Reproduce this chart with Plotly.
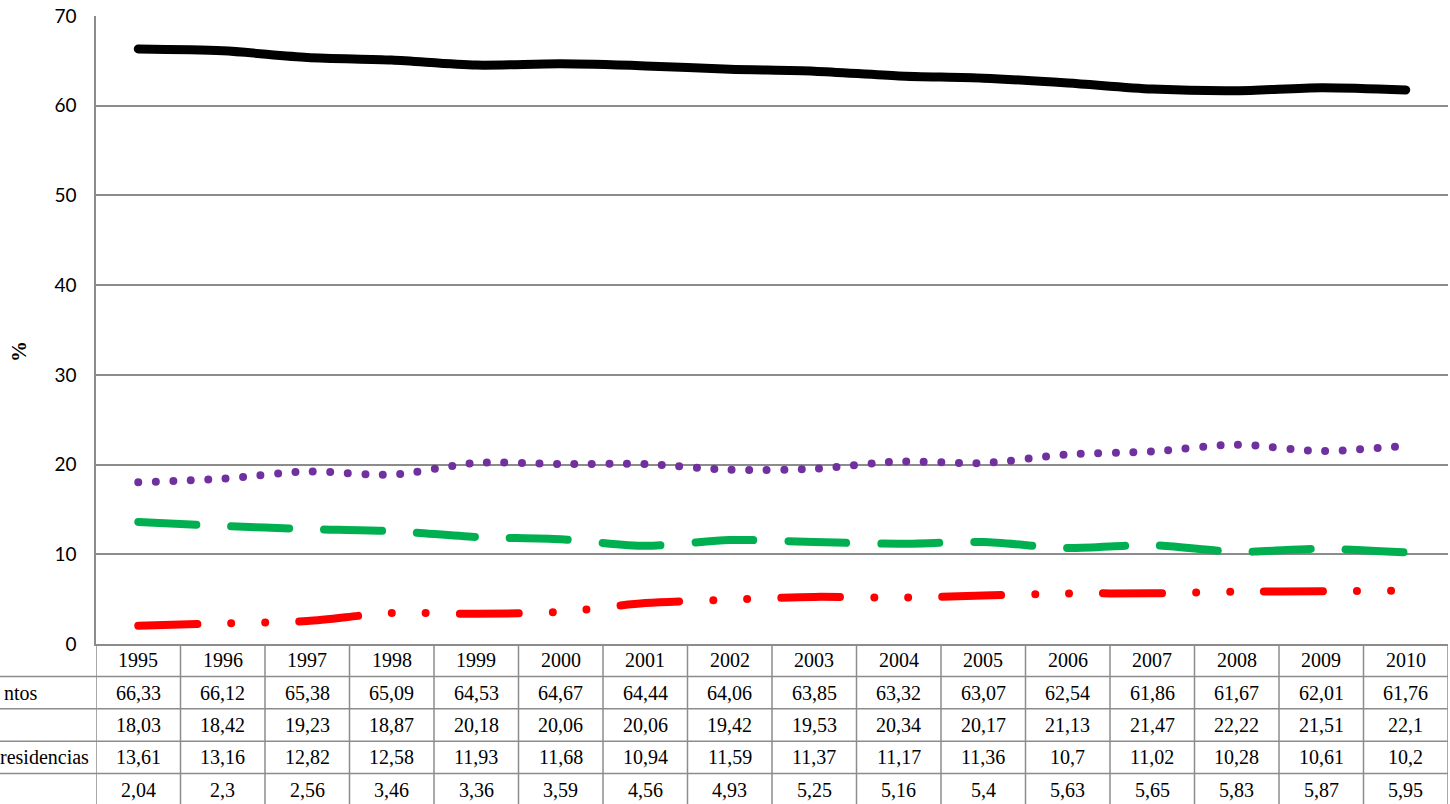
import plotly.graph_objects as go

years = list(range(1995, 2011))
row_labels = ["ntos", "", "residencias", ""]
s1 = [66.33, 66.12, 65.38, 65.09, 64.53, 64.67, 64.44, 64.06, 63.85, 63.32, 63.07, 62.54, 61.86, 61.67, 62.01, 61.76]
s2 = [18.03, 18.42, 19.23, 18.87, 20.18, 20.06, 20.06, 19.42, 19.53, 20.34, 20.17, 21.13, 21.47, 22.22, 21.51, 22.1]
s3 = [13.61, 13.16, 12.82, 12.58, 11.93, 11.68, 10.94, 11.59, 11.37, 11.17, 11.36, 10.7, 11.02, 10.28, 10.61, 10.2]
s4 = [2.04, 2.3, 2.56, 3.46, 3.36, 3.59, 4.56, 4.93, 5.25, 5.16, 5.4, 5.63, 5.65, 5.83, 5.87, 5.95]
series = [s1, s2, s3, s4]

styles = [
    dict(color="#000000", width=9, dash="solid"),
    dict(color="#7030A0", width=8, dash="0px,17.5px"),
    dict(color="#00B050", width=8, dash="58px,35px"),
    dict(color="#FF0000", width=8, dash="59px,34px,0px,34px,0px,34px"),
]

W, H = 1450, 804
ML, MR, MT, MB = 96, 2, 16, 160
PW = W - ML - MR
PH = H - MT - MB
ROW = 32.4
GRID = "#8c8c8c"
TFONT = dict(family="Liberation Serif, Times New Roman, serif", size=20, color="#000")

fig = go.Figure()
for s, st in zip(series, styles):
    fig.add_trace(go.Scatter(
        x=years, y=s, mode="lines",
        line=dict(color=st["color"], width=st["width"], dash=st["dash"], shape="spline", smoothing=0.8),
        showlegend=False, hoverinfo="skip",
    ))

shapes = []
annotations = []
ybot = -(MB + 5) / PH
# vertical table lines at column boundaries
for i in range(len(years) + 1):
    xb = years[0] - 0.5 + i
    shapes.append(dict(type="line", xref="x", yref="paper", x0=xb, x1=xb, y0=0, y1=ybot,
                       line=dict(color=GRID, width=1.5), layer="above"))
# horizontal table lines
for k in range(1, 5):
    yy = -k * ROW / PH
    shapes.append(dict(type="line", xref="paper", yref="paper", x0=-ML / PW, x1=1, y0=yy, y1=yy,
                       line=dict(color=GRID, width=1.5)))

def yc(r):
    return -(r + 0.5) * ROW / PH

# year row
for yr in years:
    annotations.append(dict(x=yr, y=yc(0), xref="x", yref="paper", text=str(yr), showarrow=False,
                            font=TFONT, xanchor="center", yanchor="middle"))
# value rows
for r, s in enumerate(series):
    for yr, v in zip(years, s):
        txt = ("%g" % v).replace(".", ",")
        annotations.append(dict(x=yr, y=yc(r + 1), xref="x", yref="paper", text=txt, showarrow=False,
                                font=TFONT, xanchor="center", yanchor="middle"))
# truncated row labels
annotations.append(dict(x=(2 - ML) / PW, y=yc(1), xref="paper", yref="paper", text=row_labels[0],
                        showarrow=False, font=TFONT, xanchor="left", yanchor="middle"))
annotations.append(dict(x=(91 - ML) / PW, y=yc(3), xref="paper", yref="paper", text=row_labels[2],
                        showarrow=False, font=TFONT, xanchor="right", yanchor="middle"))
# y-axis title
annotations.append(dict(x=(19 - ML) / PW, y=0.465, xref="paper", yref="paper", text="<b>%</b>",
                        showarrow=False, textangle=-90,
                        font=dict(family="Liberation Serif, Times New Roman, serif", size=21, color="#000"),
                        xanchor="center", yanchor="middle"))

fig.update_layout(
    width=W, height=H,
    margin=dict(l=ML, r=MR, t=MT, b=MB, autoexpand=False),
    paper_bgcolor="white", plot_bgcolor="white",
    xaxis=dict(range=[years[0] - 0.5, years[-1] + 0.5], showticklabels=False, showgrid=False,
               zeroline=False, showline=True, linecolor=GRID, linewidth=1.5, ticks=""),
    yaxis=dict(range=[0, 70], dtick=10, tick0=0, showgrid=True, gridcolor=GRID, gridwidth=1.5,
               zeroline=False, showline=True, linecolor=GRID, linewidth=1.5, ticks="",
               ticklabelstandoff=14,
               tickfont=dict(family="Lato, Carlito, Calibri, sans-serif", size=19, color="#000")),
    shapes=shapes, annotations=annotations,
)

post = """
document.body.style.margin='0';
document.body.style.overflow='hidden';
document.querySelectorAll('.scatterlayer .js-line').forEach(function(p){
  p.style.strokeLinecap='round'; p.style.strokeLinejoin='round';
});
"""
fig.write_html("out.html", post_script=post, config={"displayModeBar": False})
